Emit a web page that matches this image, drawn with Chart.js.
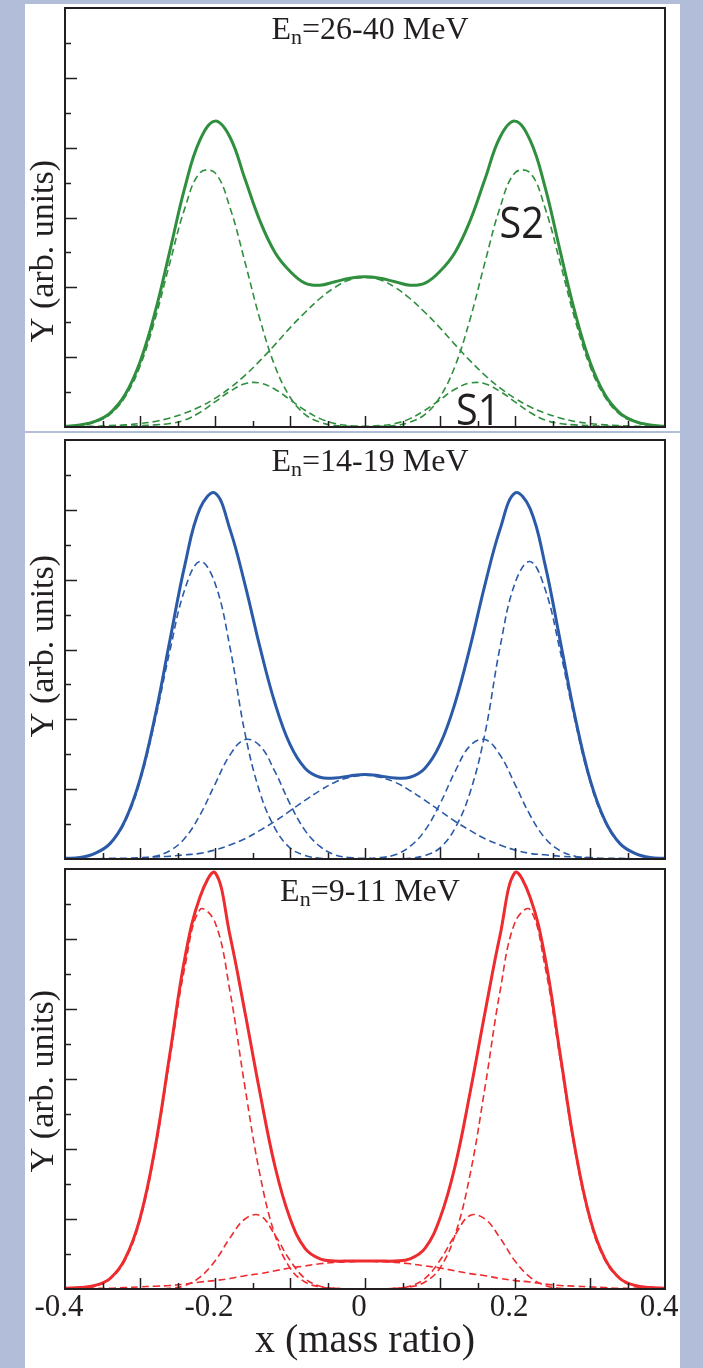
<!DOCTYPE html>
<html>
<head>
<meta charset="utf-8">
<script src="https://cdn.jsdelivr.net/npm/chart.js@4.4.1/dist/chart.umd.min.js"></script>
<style>
  html, body { margin: 0; padding: 0; }
  body { width: 703px; height: 1368px; background: #b2bdd9; position: relative; overflow: hidden; }
  #sheet { position: absolute; left: 25px; top: 4px; width: 655px; height: 1364px; background: #fff; }
  #sep { position: absolute; left: 25px; top: 431px; width: 655px; height: 2px; background: #b2bdd9; }
  canvas { position: absolute; left: 25px; }
  .ttl { position: absolute; left: 370px; transform: translateX(-50%); font: 32px 'Liberation Serif', 'Times New Roman', serif;
         line-height: 32px; color: #231f20; white-space: nowrap; }
  .ttl sub { font-size: 22px; vertical-align: -5px; line-height: 0; }
</style>
</head>
<body>
<div id="sheet"></div>
<div id="sep"></div>
<canvas id="p1" width="655" height="425" style="top:5px"></canvas>
<canvas id="p2" width="655" height="425" style="top:437px"></canvas>
<canvas id="p3" width="655" height="502" style="top:866px"></canvas>
<div class="ttl" style="top:12px">E<sub>n</sub>=26-40 MeV</div>
<div class="ttl" style="top:444px">E<sub>n</sub>=14-19 MeV</div>
<div class="ttl" style="top:874px">E<sub>n</sub>=9-11 MeV</div>

<script>
// mass ratio grid shared by every curve
const xs = [-0.40,-0.38,-0.36,-0.34,-0.32,-0.30,-0.28,-0.26,-0.24,-0.22,-0.20,-0.18,-0.16,-0.14,-0.12,-0.10,-0.08,-0.06,-0.04,-0.02,
            0.00,0.02,0.04,0.06,0.08,0.10,0.12,0.14,0.16,0.18,0.20,0.22,0.24,0.26,0.28,0.30,0.32,0.34,0.36,0.38,0.40];

// En = 26-40 MeV
const greenTotal = [0.01,0.03,0.08,0.20,0.46,0.93,1.64,2.53,3.44,4.11,4.38,4.15,3.55,2.95,2.50,2.23,2.06,2.03,2.08,2.13,
                    2.15,2.13,2.08,2.03,2.06,2.23,2.50,2.95,3.55,4.15,4.38,4.11,3.44,2.53,1.64,0.93,0.46,0.20,0.08,0.03,0.01];
const greenS2 = [0.01,0.02,0.07,0.18,0.43,0.87,1.54,2.36,3.14,3.64,3.64,3.14,2.36,1.54,0.87,0.43,0.18,0.07,0.02,0.01,
                 0.00,0.01,0.02,0.07,0.18,0.43,0.87,1.54,2.36,3.14,3.64,3.64,3.14,2.36,1.54,0.87,0.43,0.18,0.07,0.02,0.01];
const greenS1 = [0.00,0.00,0.00,0.01,0.01,0.02,0.03,0.05,0.10,0.21,0.36,0.51,0.62,0.63,0.54,0.39,0.24,0.12,0.05,0.02,
                 0.01,0.02,0.05,0.12,0.24,0.39,0.54,0.63,0.62,0.51,0.36,0.21,0.10,0.05,0.03,0.02,0.01,0.01,0.00,0.00,0.00];
const greenMid = [0.00,0.01,0.01,0.02,0.03,0.05,0.08,0.13,0.20,0.29,0.41,0.56,0.74,0.95,1.18,1.42,1.64,1.84,2.00,2.11,
                  2.14,2.11,2.00,1.84,1.64,1.42,1.18,0.95,0.74,0.56,0.41,0.29,0.20,0.13,0.08,0.05,0.03,0.02,0.01,0.01,0.00];

// En = 14-19 MeV
const blueTotal = [0.01,0.02,0.08,0.22,0.55,1.14,2.04,3.14,4.22,5.02,5.24,4.72,3.93,3.03,2.23,1.64,1.30,1.17,1.16,1.19,
                   1.21,1.19,1.16,1.17,1.30,1.64,2.23,3.03,3.93,4.72,5.24,5.02,4.22,3.14,2.04,1.14,0.55,0.22,0.08,0.02,0.01];
const blueS2 = [0.01,0.02,0.08,0.22,0.53,1.11,1.98,2.99,3.87,4.26,3.95,3.03,1.80,0.95,0.44,0.16,0.05,0.01,0.00,0.00,
                0.00,0.00,0.00,0.01,0.05,0.16,0.44,0.95,1.80,3.03,3.95,4.26,3.87,2.99,1.98,1.11,0.53,0.22,0.08,0.02,0.01];
const blueS1 = [0.00,0.00,0.00,0.00,0.00,0.01,0.04,0.12,0.30,0.63,1.07,1.49,1.71,1.62,1.25,0.79,0.41,0.18,0.06,0.02,
                0.01,0.02,0.06,0.18,0.41,0.79,1.25,1.62,1.71,1.49,1.07,0.63,0.30,0.12,0.04,0.01,0.00,0.00,0.00,0.00,0.00];
const blueMid = [0.00,0.00,0.00,0.01,0.01,0.02,0.03,0.04,0.06,0.08,0.13,0.20,0.29,0.41,0.54,0.69,0.84,0.98,1.10,1.17,
                 1.20,1.17,1.10,0.98,0.84,0.69,0.54,0.41,0.29,0.20,0.13,0.08,0.06,0.04,0.03,0.02,0.01,0.01,0.00,0.00,0.00];

// En = 9-11 MeV
const redTotal = [0.01,0.02,0.05,0.15,0.43,1.01,2.01,3.37,4.74,5.60,5.95,5.05,3.95,2.80,1.75,1.01,0.58,0.43,0.40,0.40,
                  0.40,0.40,0.40,0.43,0.58,1.01,1.75,2.80,3.95,5.05,5.95,5.60,4.74,3.37,2.01,1.01,0.43,0.15,0.05,0.02,0.01];
const redS2 = [0.00,0.01,0.04,0.14,0.41,0.98,1.97,3.30,4.61,5.42,5.24,4.25,2.88,1.63,0.77,0.30,0.10,0.03,0.01,0.00,
               0.00,0.00,0.01,0.03,0.10,0.30,0.77,1.63,2.88,4.25,5.24,5.42,4.61,3.30,1.97,0.98,0.41,0.14,0.04,0.01,0.00];
const redS1 = [0.00,0.00,0.00,0.00,0.00,0.00,0.00,0.01,0.05,0.17,0.40,0.73,1.00,1.05,0.77,0.41,0.15,0.04,0.01,0.00,
               0.00,0.00,0.01,0.04,0.15,0.41,0.77,1.05,1.00,0.73,0.40,0.17,0.05,0.01,0.00,0.00,0.00,0.00,0.00,0.00,0.00];
const redMid = [0.00,0.01,0.01,0.01,0.02,0.03,0.04,0.05,0.07,0.10,0.12,0.15,0.19,0.22,0.26,0.30,0.33,0.36,0.38,0.39,
                0.40,0.39,0.38,0.36,0.33,0.30,0.26,0.22,0.19,0.15,0.12,0.10,0.07,0.05,0.04,0.03,0.02,0.01,0.01,0.01,0.00];

const xTickValues = [-0.4, -0.2, 0, 0.2, 0.4];
const xTickLabels = ['-0.4', '-0.2', '0', '0.2', '0.4'];

const SERIF = "'Liberation Serif', 'Times New Roman', serif";
const INK = '#231f20';

// box around the plot plus the small inward ticks
const frameTicks = {
    id: 'frameTicks',
    afterDatasetsDraw(chart) {
        const { ctx, chartArea: a, scales: { x, y } } = chart;
        ctx.save();
        ctx.strokeStyle = INK;
        ctx.lineWidth = 1.5;
        ctx.beginPath();
        for (let i = 1; i < 16; i++) {
            const px = Math.round(x.getPixelForValue(-0.4 + i * 0.05)) + 0.5;
            const len = i % 2 === 0 ? 11 : 6;
            ctx.moveTo(px, a.bottom);
            ctx.lineTo(px, a.bottom - len);
        }
        for (let i = 1; i < 12; i++) {
            const py = Math.round(y.getPixelForValue(i * 0.5)) + 0.5;
            const len = i % 2 === 0 ? 12 : 6;
            ctx.moveTo(a.left, py);
            ctx.lineTo(a.left + len, py);
        }
        ctx.stroke();
        ctx.lineWidth = 2;
        ctx.strokeRect(a.left, a.top, a.right - a.left, a.bottom - a.top);
        ctx.restore();
    }
};

// rotated y title, placed per panel
const yTitle = {
    id: 'yTitle',
    afterDraw(chart, args, opts) {
        const { ctx, chartArea: a, scales: { y } } = chart;
        ctx.save();
        ctx.translate(a.left - 21, y.getPixelForValue(opts.at));
        ctx.rotate(-Math.PI / 2);
        ctx.font = '34px ' + SERIF;
        ctx.fillStyle = INK;
        ctx.textAlign = 'center';
        ctx.textBaseline = 'middle';
        ctx.fillText('Y (arb. units)', 0, 0);
        ctx.restore();
    }
};

// S1 / S2 marks in the top panel
const stateLabels = {
    id: 'stateLabels',
    afterDatasetsDraw(chart, args, opts) {
        if (!opts.items) return;
        const { ctx, scales: { x, y } } = chart;
        ctx.save();
        ctx.fillStyle = INK;
        ctx.font = '44px "Open Sans", "Noto Sans", sans-serif';
        ctx.textAlign = 'center';
        opts.items.forEach(it => {
            ctx.save();
            ctx.translate(x.getPixelForValue(it.x), y.getPixelForValue(it.y));
            ctx.scale(0.9, 1);
            ctx.fillText(it.text, 0, 0);
            ctx.restore();
        });
        ctx.restore();
    }
};

function makePanel(id, series, colour, withAxis, titleAt, labels) {
    const line = (vals, dashed) => ({
        data: xs.map((x, i) => ({ x, y: vals[i] })),
        borderColor: colour,
        borderWidth: dashed ? 1.6 : 3,
        borderDash: dashed ? [7, 4] : [],
        pointRadius: 0,
        tension: 0.4,
        fill: false
    });

    const xScale = withAxis ? {
        type: 'linear', min: -0.4, max: 0.4,
        grid: { display: false, drawTicks: false },
        border: { display: false },
        afterBuildTicks: s => { s.ticks = xTickValues.map(v => ({ value: v })); },
        ticks: {
            autoSkip: false, maxRotation: 0, padding: 0, labelOffset: -6, color: INK,
            font: { family: SERIF, size: 31 },
            callback: (v, i) => xTickLabels[i]
        },
        title: { display: true, text: 'x (mass ratio)', color: INK, font: { family: SERIF, size: 40 }, padding: 0 },
        afterFit: s => { s.height = 76; s.paddingLeft = 0; s.paddingRight = 0; }
    } : { type: 'linear', min: -0.4, max: 0.4, display: false };

    return new Chart(document.getElementById(id), {
        type: 'line',
        data: {
            datasets: [line(series[0], false), line(series[1], true), line(series[2], true), line(series[3], true)]
        },
        options: {
            responsive: false,
            animation: false,
            events: [],
            layout: { padding: { top: 3, right: 15, bottom: 3, left: 40 } },
            plugins: {
                legend: { display: false },
                tooltip: { enabled: false },
                yTitle: { at: titleAt },
                stateLabels: { items: labels }
            },
            scales: {
                x: xScale,
                y: { min: 0, max: 6, display: false }
            }
        },
        plugins: [frameTicks, yTitle, stateLabels]
    });
}

makePanel('p1', [greenTotal, greenS2, greenS1, greenMid], '#2f8f3e', false, 2.52, [
    { text: 'S2', x: 0.209, y: 2.71 },
    { text: 'S1', x: 0.151, y: 0.03 }
]);
makePanel('p2', [blueTotal, blueS2, blueS1, blueMid], '#2a5aa8', false, 3.05, null);
makePanel('p3', [redTotal, redS2, redS1, redMid], '#ee2b2e', true, 2.97, null);
</script>
</body>
</html>
